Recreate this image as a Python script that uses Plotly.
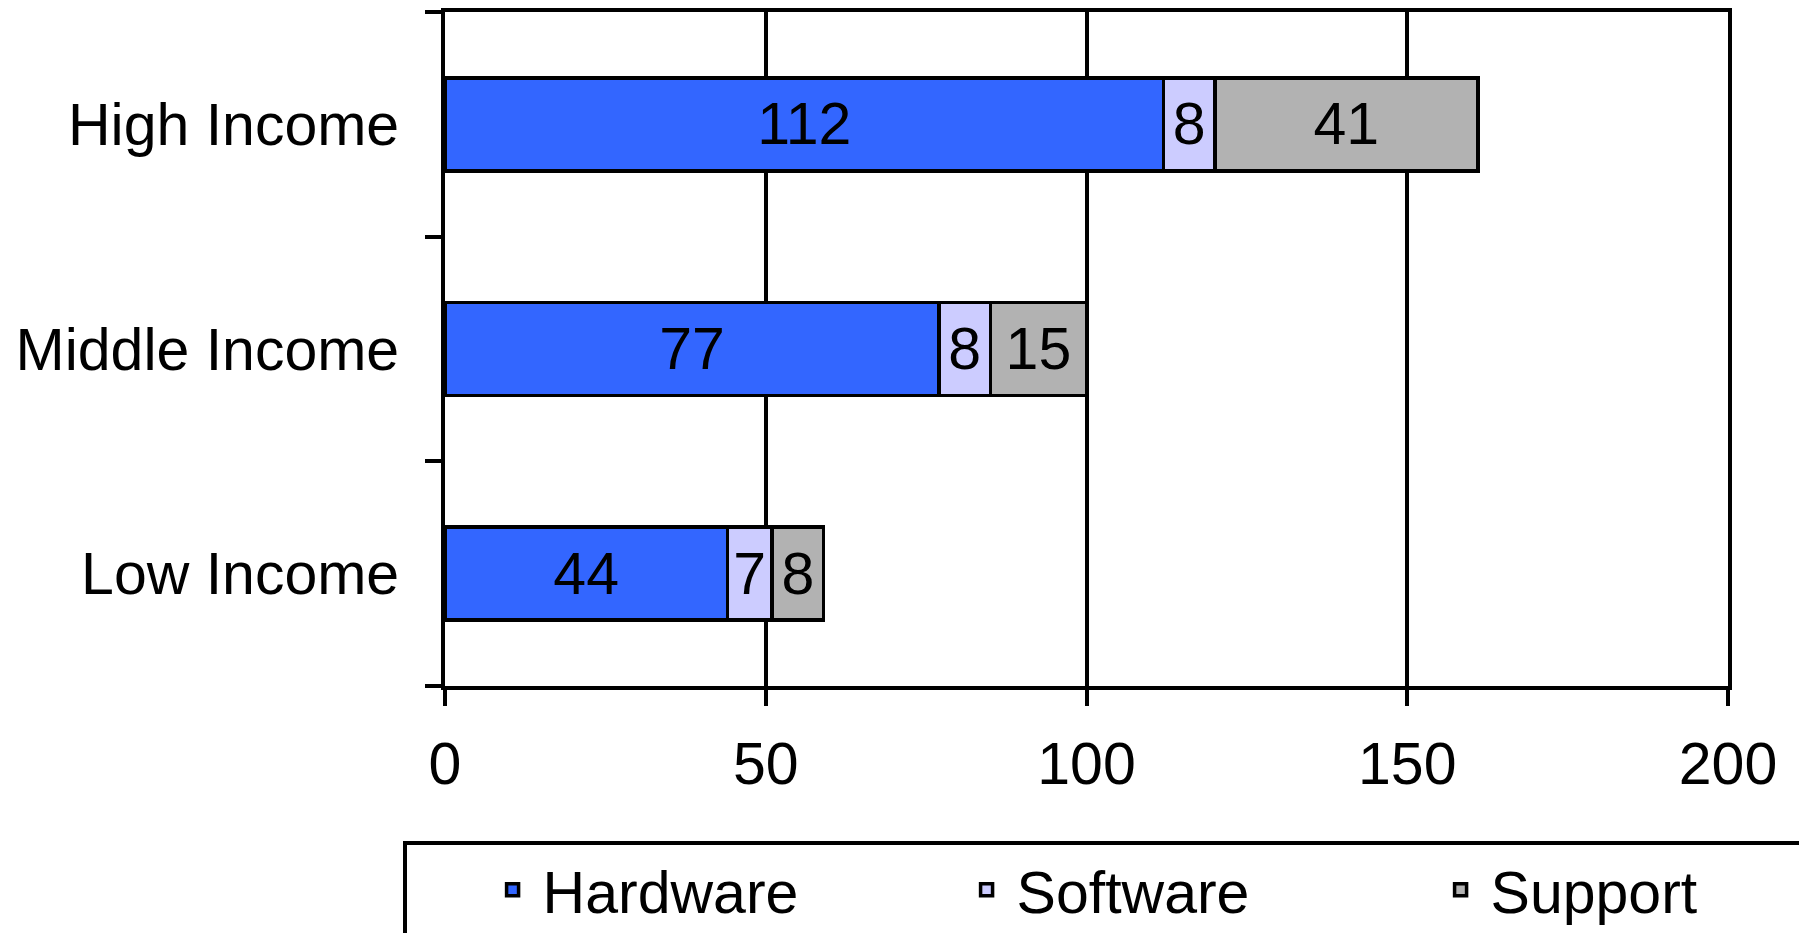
import plotly.graph_objects as go

categories = ["Low Income", "Middle Income", "High Income"]
hardware = [44, 77, 112]
software = [7, 8, 8]
support = [8, 15, 41]
series_names = ["Hardware", "Software", "Support"]
series_colors = ["#3366FF", "#CCCCFF", "#B2B2B2"]
x_ticks = [0, 50, 100, 150, 200]

FONT = "Arial, Liberation Sans, Helvetica, sans-serif"
FS = 59
W, H = 1799, 933
ML, MR, MT, MB = 445, 71, 12, 247

fig = go.Figure()
for name, vals, col in zip(series_names, [hardware, software, support], series_colors):
    fig.add_trace(go.Bar(
        y=categories, x=vals, name=name, orientation="h",
        marker=dict(color=col, line=dict(color="black", width=3.5)),
        text=vals, texttemplate="%{x}", textposition="inside",
        insidetextanchor="middle", textangle=0, constraintext="none",
        textfont=dict(family=FONT, size=FS, color="black"),
    ))

fig.update_layout(
    width=W, height=H,
    margin=dict(l=ML, r=MR, t=MT, b=MB, pad=0, autoexpand=False),
    paper_bgcolor="white", plot_bgcolor="white",
    barmode="stack", bargap=0.586,
    font=dict(family=FONT, size=FS, color="black"),
    showlegend=True,
    legend=dict(
        orientation="h", x=(403 - ML) / (W - ML - MR), y=(686 - 841) / (H - MT - MB),
        xanchor="left", yanchor="top",
        bordercolor="black", borderwidth=4, bgcolor="white",
        font=dict(family=FONT, size=FS, color="black"),
        entrywidth=409, entrywidthmode="pixels", itemwidth=50,
        title=dict(text="\u00a0\u00a0\u00a0\u00a0", side="left", font=dict(size=FS)),
        traceorder="normal",
    ),
)

fig.update_xaxes(
    range=[0, 200], tickvals=x_ticks, ticktext=[str(v) for v in x_ticks],
    showgrid=True, gridcolor="black", gridwidth=4,
    showline=True, linecolor="black", linewidth=4, mirror=True,
    ticks="outside", ticklen=16, tickwidth=4, tickcolor="black",
    tickfont=dict(family=FONT, size=FS, color="black"),
    zeroline=False, ticklabelstandoff=7, automargin=False,
)
fig.update_yaxes(
    categoryorder="array", categoryarray=categories,
    showgrid=False, showline=True, linecolor="black", linewidth=4, mirror=True,
    ticks="outside", ticklen=16, tickwidth=4, tickcolor="black", tickson="boundaries",
    tickfont=dict(family=FONT, size=FS, color="black"),
    ticklabelstandoff=30, automargin=False,
)

fig.write_html("out.html")
